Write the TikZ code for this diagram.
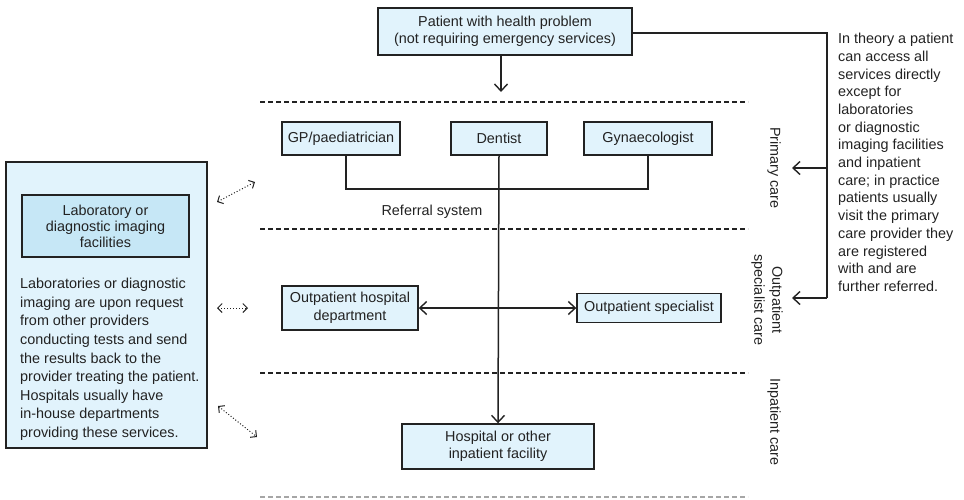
\documentclass[tikz,border=0pt]{standalone}
\usepackage{fontspec}
\setmainfont{Liberation Sans}
\usetikzlibrary{arrows.meta}
\definecolor{boxfill}{HTML}{E1F3FC}
\definecolor{innerfill}{HTML}{C6E7F6}
\definecolor{linec}{HTML}{222222}
\begin{document}
\begin{tikzpicture}[x=1pt,y=-1pt,
  every node/.style={font=\fontsize{14.4}{17.5}\selectfont, text=linec},
  box/.style={draw=linec, line width=1.4pt, fill=boxfill, align=center, inner sep=0pt},
  conn/.style={draw=linec, line width=1.5pt},
  arr/.style={conn, -{Straight Barb[length=7pt,width=13pt,line width=1.4pt]}},
  darr/.style={conn, {Straight Barb[length=7pt,width=13pt,line width=1.4pt]}-{Straight Barb[length=7pt,width=13pt,line width=1.4pt]}},
  dotarr/.style={draw=linec, line width=1pt, dotted, {Straight Barb[length=4.5pt,width=9pt,line width=1pt]}-{Straight Barb[length=4.5pt,width=9pt,line width=1pt]}},
  sep/.style={draw=linec, line width=1.2pt, dash pattern=on 5pt off 3pt},
  sidelab/.style={rotate=-90, align=center, font=\fontsize{14.4}{18}\selectfont}
]
\useasboundingbox (0,0) rectangle (964,499);

% separators
\draw[sep] (260,102) -- (748,102);
\draw[sep] (260,229) -- (748,229);
\draw[sep] (260,373) -- (748,373);
\draw[draw=gray!70, line width=1.1pt, dash pattern=on 5pt off 3pt] (260,497) -- (748,497);

% nodes
\node[box, minimum width=254pt, minimum height=47pt] (patient) at (505,31.5) {Patient with health problem\\(not requiring emergency services)};
\node[box, minimum width=118pt, minimum height=33pt] (gp) at (341,138.5) {GP/paediatrician};
\node[box, minimum width=96pt, minimum height=33pt] (dentist) at (499,138.5) {Dentist};
\node[box, minimum width=128pt, minimum height=33pt] (gyn) at (648,138.5) {Gynaecologist};
\node (ref) at (432,212) {Referral system};
\node[box, minimum width=136pt, minimum height=44pt] (ohd) at (350,308) {Outpatient hospital\\department};
\node[box, minimum width=144pt, minimum height=29pt] (os) at (649,308) {Outpatient specialist};
\node[box, minimum width=192pt, minimum height=45pt] (hosp) at (498,446.5) {Hospital or other\\inpatient facility};

\node[box, minimum width=201pt, minimum height=286pt] (labouter) at (106.5,305) {};
\node[box, fill=innerfill, minimum width=167pt, minimum height=62pt, font=\fontsize{14.4}{16}\selectfont] (labinner) at (105.5,226) {Laboratory or\\diagnostic imaging\\facilities};
\node[anchor=north west, align=left, inner sep=0pt, font=\fontsize{14.4}{18.6}\selectfont] (labtext) at (20,278) {Laboratories or diagnostic\\imaging are upon request\\from other providers\\conducting tests and send\\the results back to the\\provider treating the patient.\\Hospitals usually have\\in-house departments\\providing these services.};

\node[anchor=north west, align=left, inner sep=0pt, font=\fontsize{14.4}{17.7}\selectfont] (note) at (838,33) {In theory a patient\\can access all\\services directly\\except for\\laboratories\\or diagnostic\\imaging facilities\\and inpatient\\care; in practice\\patients usually\\visit the primary\\care provider they\\are registered\\with and are\\further referred.};

\node[sidelab] (lprim) at (774,168) {Primary care};
\node[sidelab] (lout) at (767,300) {Outpatient\\specialist care};
\node[sidelab] (linp) at (774,422) {Inpatient care};

% coordinates
\coordinate (pa) at (501,92);
\coordinate (brk) at (346,189);
\coordinate (rt) at (827,33);
\coordinate (rb) at (827,298);
\coordinate (rm) at (827,168);
\coordinate (tp) at (792,168);
\coordinate (tb) at (792,298);
\coordinate (d1a) at (217,202);
\coordinate (d1b) at (255,182);
\coordinate (d2a) at (217,308);
\coordinate (d2b) at (248,308);
\coordinate (d3a) at (218,406);
\coordinate (d3b) at (257,437);

% connectors
\draw[arr] (patient.south -| pa) -- (pa);
\draw[conn] (gp.south -| brk) -- (brk) -- (gyn.south |- brk) -- (gyn.south);
\draw[arr] (dentist.south) -- (hosp.north);
\draw[darr] (ohd.east |- os.west) -- (os.west);
\draw[conn] (patient.east |- rt) -- (rt) -- (rb);
\draw[arr] (rb) -- (tb);
\draw[arr] (rm) -- (tp);

\draw[dotarr] (d1a) -- (d1b);
\draw[dotarr] (d2a) -- (d2b);
\draw[dotarr] (d3a) -- (d3b);
\end{tikzpicture}
\end{document}
